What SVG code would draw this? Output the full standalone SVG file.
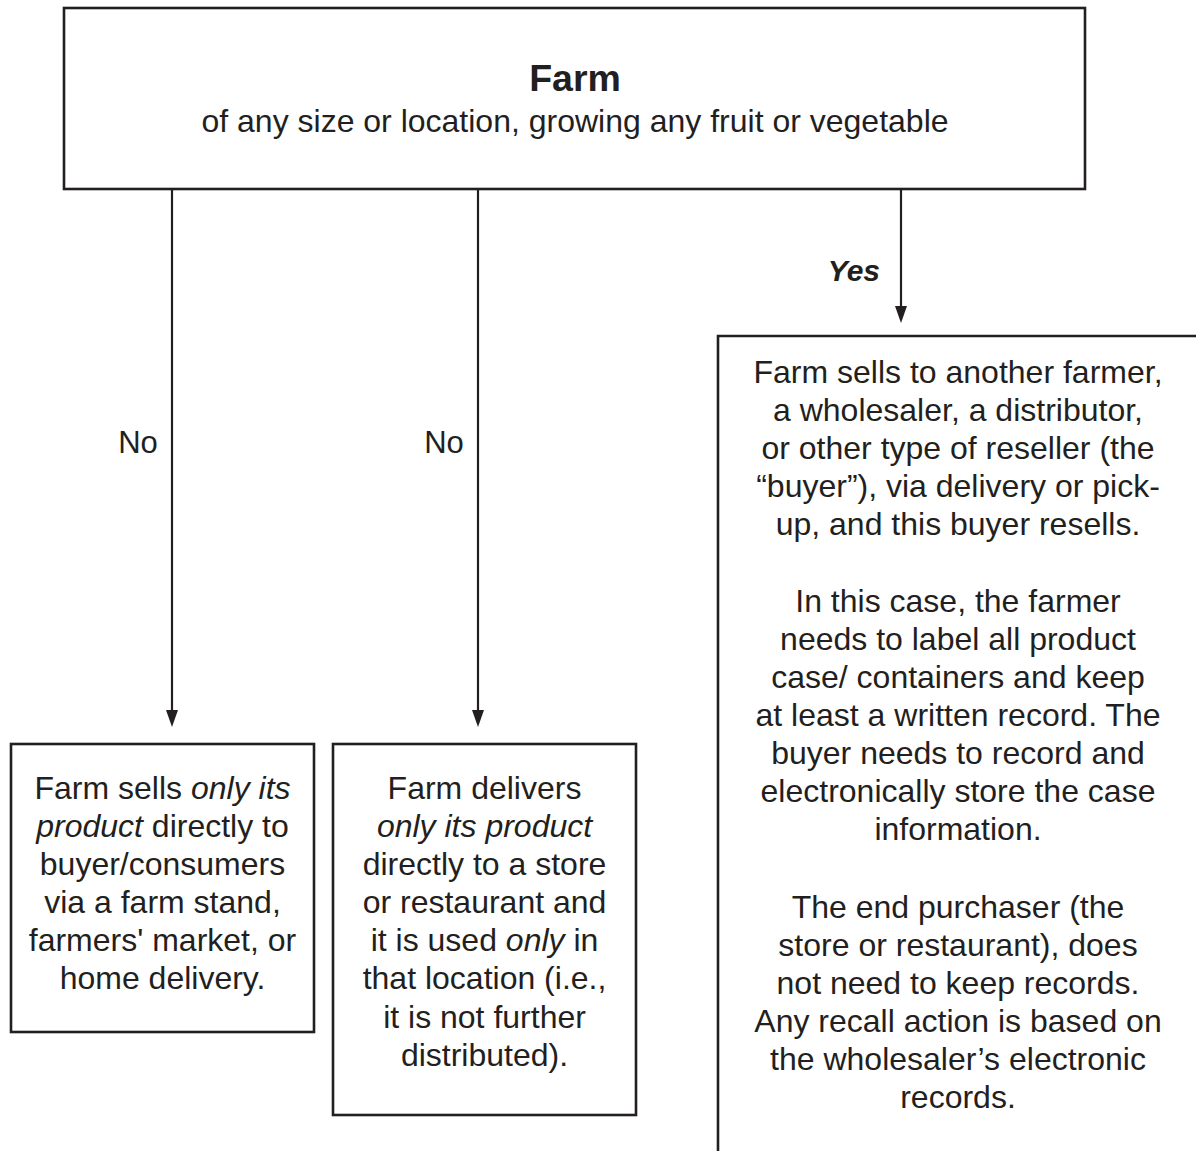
<svg xmlns="http://www.w3.org/2000/svg" width="1196" height="1151" viewBox="0 0 1196 1151">
<style>
.box{fill:#fff;stroke:#231f20;stroke-width:2.6}
.ln{stroke:#231f20;stroke-width:2.2;fill:none}
.ah{fill:#231f20}
text{font-family:"Liberation Sans",Arial,Helvetica,sans-serif;fill:#231f20;font-size:32px;text-anchor:middle}
.i{font-style:italic}
</style>
<rect width="1196" height="1151" fill="#fff"/>
<g id="connectors">
<line class="ln" x1="172" y1="189" x2="172" y2="710"/>
<path class="ah" d="M166,710 L178,710 L172,727 Z"/>
<line class="ln" x1="478" y1="189" x2="478" y2="710"/>
<path class="ah" d="M472,710 L484,710 L478,727 Z"/>
<line class="ln" x1="901" y1="189" x2="901" y2="306"/>
<path class="ah" d="M895,306 L907,306 L901,323 Z"/>
<text x="138" y="453" style="font-size:31px">No</text>
<text x="444" y="453" style="font-size:31px">No</text>
<text x="880" y="281" style="font-weight:bold;font-style:italic;text-anchor:end;font-size:30px">Yes</text>
</g>
<g id="farm">
<rect class="box" x="64" y="8" width="1021" height="181"/>
<text x="575" y="91" style="font-weight:bold;font-size:37.5px">Farm</text>
<text x="575" y="132">of any size or location, growing any fruit or vegetable</text>
</g>
<g id="direct-sale">
<rect class="box" x="11" y="744" width="303" height="288"/>
<text x="162.5" y="799">Farm sells <tspan class="i">only its</tspan></text>
<text x="162.5" y="837"><tspan class="i">product</tspan> directly to</text>
<text x="162.5" y="875">buyer/consumers</text>
<text x="162.5" y="913">via a farm stand,</text>
<text x="162.5" y="951">farmers' market, or</text>
<text x="162.5" y="989">home delivery.</text>
</g>
<g id="store-delivery">
<rect class="box" x="333" y="744" width="303" height="371"/>
<text x="484.5" y="799">Farm delivers</text>
<text x="484.5" y="837" class="i">only its product</text>
<text x="484.5" y="875">directly to a store</text>
<text x="484.5" y="913">or restaurant and</text>
<text x="484.5" y="951">it is used <tspan class="i">only</tspan> in</text>
<text x="484.5" y="989">that location (i.e.,</text>
<text x="484.5" y="1028">it is not further</text>
<text x="484.5" y="1066">distributed).</text>
</g>
<g id="reseller">
<path class="box" d="M718,1160 V336 H1200" style="fill:none"/>
<text x="958" y="383">Farm sells to another farmer,</text>
<text x="958" y="421">a wholesaler, a distributor,</text>
<text x="958" y="459">or other type of reseller (the</text>
<text x="958" y="497">“buyer”), via delivery or pick-</text>
<text x="958" y="535">up, and this buyer resells.</text>
<text x="958" y="612">In this case, the farmer</text>
<text x="958" y="650">needs to label all product</text>
<text x="958" y="688">case/ containers and keep</text>
<text x="958" y="726">at least a written record. The</text>
<text x="958" y="764">buyer needs to record and</text>
<text x="958" y="802">electronically store the case</text>
<text x="958" y="840">information.</text>
<text x="958" y="918">The end purchaser (the</text>
<text x="958" y="956">store or restaurant), does</text>
<text x="958" y="994">not need to keep records.</text>
<text x="958" y="1032">Any recall action is based on</text>
<text x="958" y="1070">the wholesaler’s electronic</text>
<text x="958" y="1108">records.</text>
</g>
</svg>
